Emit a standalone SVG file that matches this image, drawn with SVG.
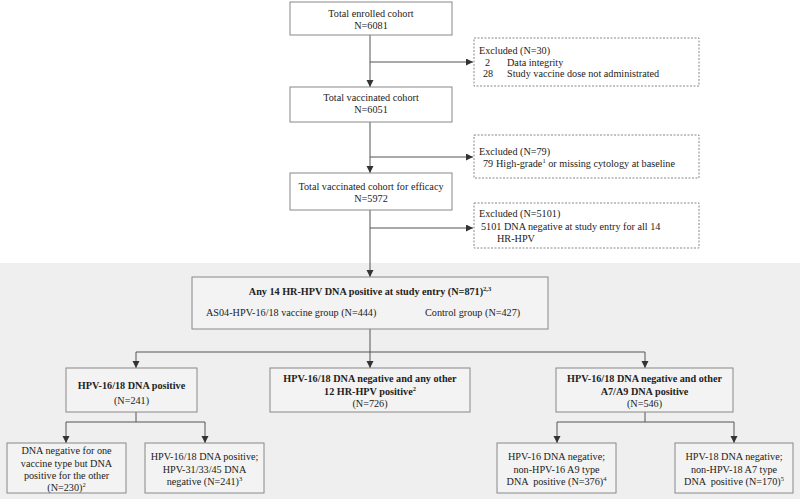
<svg xmlns="http://www.w3.org/2000/svg" width="800" height="499" viewBox="0 0 800 499">
<defs>
<marker id="ah" markerUnits="userSpaceOnUse" markerWidth="8" markerHeight="8" refX="7" refY="3.5" orient="auto">
<path d="M0,0 L7,3.5 L0,7 Z" fill="#333"/>
</marker>
<style>
.t{font-family:"Liberation Serif","Times New Roman",serif;font-size:10.2px;fill:#222}
.b{font-weight:bold}
.m{text-anchor:middle}
.box{fill:#fff;stroke:#888;stroke-width:1}
.gbox{fill:#f3f3f3;stroke:#888;stroke-width:1}
.dbox{fill:#fff;stroke:#888;stroke-width:1;stroke-dasharray:2,1.5}
.c{fill:none;stroke:#555;stroke-width:1}
.a{fill:none;stroke:#555;stroke-width:1;marker-end:url(#ah)}
.s{font-size:6.5px}
</style>
</defs>
<rect x="0" y="0" width="800" height="499" fill="#fff"/>
<rect x="0" y="263" width="800" height="236" fill="#efefef"/>

<g id="connectors">
<line class="a" x1="370" y1="35" x2="370" y2="87"/>
<line class="a" x1="370" y1="62" x2="473" y2="62"/>
<line class="a" x1="370" y1="122" x2="370" y2="173"/>
<line class="a" x1="370" y1="157" x2="473" y2="157"/>
<line class="a" x1="370" y1="210" x2="370" y2="277"/>
<line class="a" x1="370" y1="228" x2="473" y2="228"/>
<line class="c" x1="370" y1="329" x2="370" y2="352"/>
<line class="c" x1="136" y1="352" x2="645" y2="352"/>
<line class="a" x1="136" y1="352" x2="136" y2="368"/>
<line class="a" x1="370" y1="352" x2="370" y2="368"/>
<line class="a" x1="645" y1="352" x2="645" y2="368"/>
<line class="c" x1="136" y1="412" x2="136" y2="422"/>
<line class="c" x1="66" y1="422" x2="205" y2="422"/>
<line class="a" x1="66" y1="422" x2="66" y2="443"/>
<line class="a" x1="205" y1="422" x2="205" y2="443"/>
<line class="c" x1="645" y1="412" x2="645" y2="422"/>
<line class="c" x1="557" y1="422" x2="734" y2="422"/>
<line class="a" x1="557" y1="422" x2="557" y2="443"/>
<line class="a" x1="734" y1="422" x2="734" y2="443"/>
</g>

<g id="enrolled">
<rect class="box" x="290" y="2" width="162" height="33"/>
<text class="t m" x="371" y="17">Total enrolled cohort</text>
<text class="t m" x="371" y="29">N=6081</text>
</g>
<g id="excluded1">
<rect class="dbox" x="474" y="38" width="225" height="48"/>
<text class="t" x="479" y="54">Excluded (N=30)</text>
<text class="t" x="485" y="65.5">2</text>
<text class="t" x="507" y="65.5">Data integrity</text>
<text class="t" x="483" y="77">28</text>
<text class="t" x="507" y="77">Study vaccine dose not administrated</text>
</g>
<g id="vaccinated">
<rect class="box" x="290" y="87" width="162" height="35"/>
<text class="t m" x="371" y="101">Total vaccinated cohort</text>
<text class="t m" x="371" y="113">N=6051</text>
</g>
<g id="excluded2">
<rect class="dbox" x="474" y="135" width="225" height="43"/>
<text class="t" x="479" y="155">Excluded (N=79)</text>
<text class="t" x="483" y="167">79</text>
<text class="t" x="496" y="167">High-grade<tspan class="s" dy="-4">1</tspan><tspan dy="4"> or missing cytology at baseline</tspan></text>
</g>
<g id="efficacy">
<rect class="box" x="290" y="173" width="162" height="37"/>
<text class="t m" x="371" y="190">Total vaccinated cohort for efficacy</text>
<text class="t m" x="371" y="202">N=5972</text>
</g>
<g id="excluded3">
<rect class="dbox" x="474" y="203" width="225" height="45"/>
<text class="t" x="479" y="216.5">Excluded (N=5101)</text>
<text class="t" x="481" y="230">5101 DNA negative at study entry for all 14</text>
<text class="t" x="497" y="242">HR-HPV</text>
</g>
<g id="any14">
<rect class="gbox" x="192" y="277" width="356" height="52"/>
<text class="t b m" x="370" y="295">Any 14 HR-HPV DNA positive at study entry (N=871)<tspan class="s" dy="-4">2,3</tspan></text>
<text class="t" x="206" y="315.5">AS04-HPV-16/18 vaccine group (N=444)</text>
<text class="t" x="425" y="315.5">Control group (N=427)</text>
</g>
<g id="pos1618">
<rect class="gbox" x="66" y="368" width="131" height="44"/>
<text class="t b m" x="131.5" y="388.5">HPV-16/18 DNA positive</text>
<text class="t m" x="131.5" y="403.5">(N=241)</text>
</g>
<g id="other12">
<rect class="gbox" x="270" y="368" width="200" height="44"/>
<text class="t b m" x="370" y="381.5">HPV-16/18 DNA negative and any other</text>
<text class="t b m" x="370" y="395">12 HR-HPV positive<tspan class="s" dy="-4">2</tspan></text>
<text class="t m" x="370" y="407">(N=726)</text>
</g>
<g id="a7a9">
<rect class="gbox" x="556" y="368" width="177" height="44"/>
<text class="t b m" x="644.5" y="381.5">HPV-16/18 DNA negative and other</text>
<text class="t b m" x="644.5" y="395">A7/A9 DNA positive</text>
<text class="t m" x="644.5" y="407">(N=546)</text>
</g>
<g id="onetype">
<rect class="gbox" x="7" y="443" width="119" height="50"/>
<text class="t m" x="66.5" y="454">DNA negative for one</text>
<text class="t m" x="66.5" y="466.5">vaccine type but DNA</text>
<text class="t m" x="66.5" y="479">positive for the other</text>
<text class="t m" x="66.5" y="491">(N=230)<tspan class="s" dy="-4">2</tspan></text>
</g>
<g id="neg313345">
<rect class="gbox" x="145" y="443" width="119" height="50"/>
<text class="t m" x="204.5" y="460">HPV-16/18 DNA positive;</text>
<text class="t m" x="204.5" y="472.5">HPV-31/33/45 DNA</text>
<text class="t m" x="204.5" y="485">negative (N=241)<tspan class="s" dy="-4">3</tspan></text>
</g>
<g id="a9">
<rect class="gbox" x="497" y="443" width="119" height="50"/>
<text class="t m" x="556.5" y="460">HPV-16 DNA negative;</text>
<text class="t m" x="556.5" y="472.5">non-HPV-16 A9 type</text>
<text class="t m" x="556.5" y="485" xml:space="preserve">DNA  positive (N=376)<tspan class="s" dy="-4">4</tspan></text>
</g>
<g id="a7">
<rect class="gbox" x="675" y="443" width="118" height="50"/>
<text class="t m" x="734" y="460">HPV-18 DNA negative;</text>
<text class="t m" x="734" y="472.5">non-HPV-18 A7 type</text>
<text class="t m" x="734" y="485" xml:space="preserve">DNA  positive (N=170)<tspan class="s" dy="-4">5</tspan></text>
</g>
</svg>
